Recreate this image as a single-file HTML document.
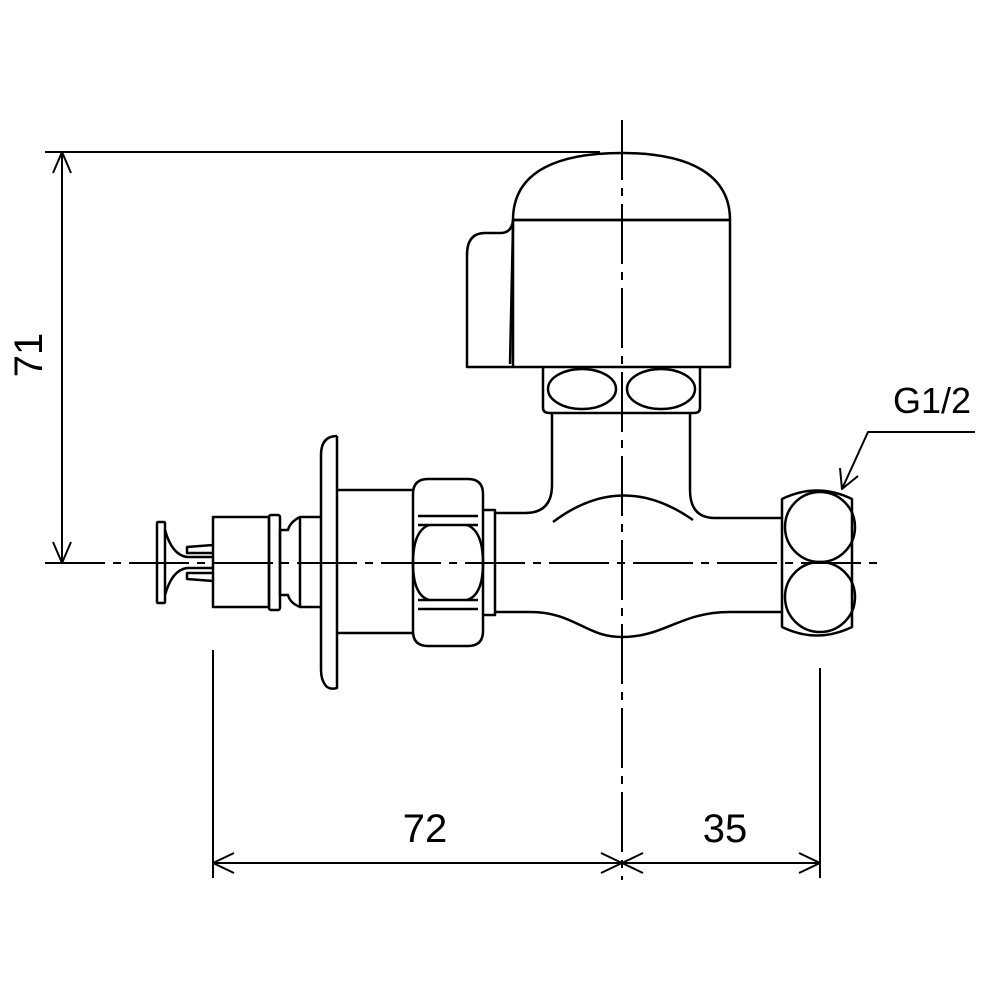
<!DOCTYPE html>
<html><head><style>body{margin:0;background:#fff}svg{display:block}</style></head>
<body>
<svg width="1000" height="1000" viewBox="0 0 1000 1000" xmlns="http://www.w3.org/2000/svg">
<g fill="none" stroke="#000" stroke-width="2.5" stroke-linejoin="round">
<line x1="622" y1="120" x2="622" y2="880" stroke-dasharray="60,8,8,8" stroke-width="2"/>
<line x1="45" y1="563" x2="880" y2="563" stroke-dasharray="60,8,8,8" stroke-width="2"/>
<line x1="45" y1="152" x2="600" y2="152" stroke-width="2"/>
<line x1="62" y1="152" x2="62" y2="563" stroke-width="2"/>
<polyline points="53,173 62,152 71,173" stroke-width="2"/>
<polyline points="53,542 62,563 71,542" stroke-width="2"/>
<line x1="213" y1="650" x2="213" y2="878" stroke-width="2"/>
<line x1="820" y1="668" x2="820" y2="878" stroke-width="2"/>
<line x1="213" y1="863" x2="820" y2="863" stroke-width="2"/>
<polyline points="234,853 213,863 234,873" stroke-width="2"/>
<polyline points="601,853 622,863 601,873" stroke-width="2"/>
<polyline points="643,853 622,863 643,873" stroke-width="2"/>
<polyline points="799,853 820,863 799,873" stroke-width="2"/>
<polyline points="975,432 868,432 842,489" stroke-width="2"/>
<polyline points="840,468 842,489 858,476" stroke-width="2"/>
<path d="M513,220 C513,170 560,153 622,153 C690,153 730,175 730,220 Z"/>
<rect x="513" y="220" width="217" height="147"/>
<path d="M513,220 Q512,233 500,233 L485,233 Q467,233 467,255 L467,367 L513,367"/>
<line x1="513" y1="225" x2="510" y2="364"/>
<path d="M543,367 L543,408 Q543,413 550,413 L694,413 Q700,413 700,408 L700,367"/>
<ellipse cx="582" cy="389" rx="34" ry="20"/>
<ellipse cx="661" cy="389" rx="34" ry="20"/>
<path d="M552,413 L552,485 Q552,513 525,513 L495,513"/>
<path d="M690,413 L690,490 Q690,518 715,518 L782,518"/>
<path d="M495,612 L530,612 C575,612 585,637 622,637 C665,637 680,612 730,612 L782,612"/>
<path d="M553,522 Q622,470 693,520"/>
<path d="M782,499 Q817,482 852,499 L852,627 Q817,644 782,627 Z"/>
<circle cx="820" cy="527" r="35"/>
<circle cx="820" cy="597" r="35"/>
<path d="M483,510 L495,510 L495,615 L483,615"/>
<!-- hex nut -->
<path d="M413,516 L413,494 Q413,479 428,479 L468,479 Q483,479 483,494 L483,516"/>
<path d="M413,609 L413,631 Q413,646 428,646 L468,646 Q483,646 483,631 L483,609"/>
<line x1="413" y1="516" x2="413" y2="609"/>
<line x1="483" y1="516" x2="483" y2="609"/>
<line x1="418" y1="516" x2="478" y2="516"/>
<line x1="418" y1="525" x2="478" y2="525"/>
<line x1="418" y1="600" x2="478" y2="600"/>
<line x1="418" y1="609" x2="478" y2="609"/>
<path d="M429,525 Q413,531 413,563 Q413,595 429,600 M467,525 Q483,531 483,563 Q483,595 467,600"/>
<path d="M337,490 L413,490 M337,633 L413,633"/>
<path d="M337,436 L337,688 Q330,690 326,686 Q321,680 321,670 L321,455 Q321,436 337,436"/>
<path d="M321,517 L300,517 L300,607 L321,607"/>
<path d="M300,517 Q290,522 288,530 L280,530 L280,595 L288,595 Q290,603 300,607"/>
<rect x="269" y="515" width="11" height="95" rx="2"/>
<rect x="213" y="517" width="56" height="90"/>
<path d="M213,545 L187,547 L187,553 L213,553"/>
<path d="M213,573 L187,573 L187,579 L213,581"/>
<rect x="157" y="522" width="8" height="81" rx="1"/>
<path d="M165,530 Q172,555 187,557 L213,557"/>
<path d="M165,595 Q172,570 187,568 L213,568"/>
</g>
<g font-family="Liberation Sans, sans-serif" font-size="40" fill="#000">
<text x="425" y="842" text-anchor="middle">72</text>
<text x="725" y="842" text-anchor="middle">35</text>
<text x="932" y="413" text-anchor="middle" font-size="36">G1/2</text>
<text transform="translate(42,355) rotate(-90)" text-anchor="middle">71</text>
</g>
</svg>
</body></html>
